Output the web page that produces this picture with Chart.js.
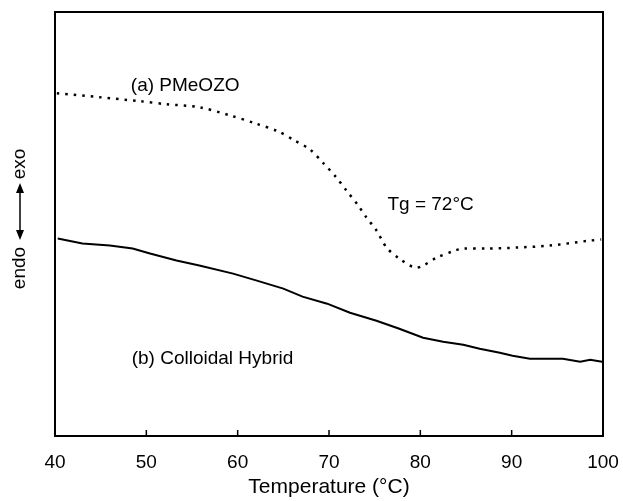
<!DOCTYPE html>
<html lang="en">
<head>
    <meta charset="UTF-8">
    <title>DSC curves</title>
    <script src="https://cdn.jsdelivr.net/npm/chart.js"></script>
    <style>
        body { margin: 0; background: #fff; }
        .wrap { width: 623px; height: 501px; }
    </style>
</head>
<body>
    <div class="wrap"><canvas id="dsc"></canvas></div>
    <script>
        // (a) PMeOZO, dotted trace
        let tempA = [40.2, 44.9, 49.3, 52.2, 55.8, 59.1, 61.9, 64.4, 66.2, 67.9, 69.4, 70.8, 71.9, 73.2, 74.1, 75.2, 76.3, 77.7, 79.4, 80.3, 81.8, 83.8, 84.7, 87.3, 90.6, 94.2, 98.6, 99.8];
        let heatA = [342, 338, 334, 331, 328, 320, 312, 304, 295, 286, 272, 258, 245, 230, 218, 205, 188, 177, 168, 170, 178, 185, 187, 187, 188, 190, 195, 196];
        // (b) Colloidal Hybrid, solid trace
        let tempB = [40.3, 43.0, 46.0, 48.5, 50.4, 53.3, 55.8, 59.5, 62.1, 65.0, 67.1, 69.8, 72.3, 75.2, 77.7, 80.3, 82.5, 84.7, 86.5, 88.7, 90.1, 92.0, 95.6, 97.5, 98.6, 99.9];
        let heatB = [197, 192, 190, 187, 182, 175, 170, 162, 155, 147, 139, 132, 123, 115, 107, 98, 94, 91, 87, 83, 80, 77, 77, 74, 76, 74];
        let xTicks = [40, 50, 60, 70, 80, 90, 100];

        let fontFam = "'Liberation Sans', Arial, sans-serif";

        function pairs(xs, ys) {
            return xs.map((x, i) => ({ x: x, y: ys[i] }));
        }

        // frame, inward ticks, labels
        let decor = {
            id: 'decor',
            afterDraw(chart) {
                let ctx = chart.ctx;
                let a = chart.chartArea;
                let xs = chart.scales.x, ys = chart.scales.y;
                ctx.save();
                ctx.strokeStyle = '#000';
                ctx.lineWidth = 2;
                ctx.strokeRect(a.left, a.top, a.right - a.left, a.bottom - a.top);
                ctx.lineWidth = 1.5;
                xTicks.forEach(t => {
                    let px = xs.getPixelForValue(t);
                    ctx.beginPath();
                    ctx.moveTo(px, a.bottom);
                    ctx.lineTo(px, a.bottom - 6);
                    ctx.stroke();
                });

                ctx.fillStyle = '#000';
                ctx.font = '19px ' + fontFam;
                ctx.textBaseline = 'middle';
                ctx.textAlign = 'left';
                ctx.fillText('(a) PMeOZO', xs.getPixelForValue(48.3), ys.getPixelForValue(349));
                ctx.fillText('Tg = 72\u00B0C', xs.getPixelForValue(76.4), ys.getPixelForValue(231));
                ctx.fillText('(b) Colloidal Hybrid', xs.getPixelForValue(48.4), ys.getPixelForValue(77));

                // y label: endo <-> exo
                ctx.translate(20, 227);
                ctx.rotate(-Math.PI / 2);
                ctx.textAlign = 'center';
                ctx.fillText('endo', -41, 0);
                ctx.fillText('exo', 63, 0);
                ctx.lineWidth = 1.5;
                ctx.beginPath();
                ctx.moveTo(-8, 0);
                ctx.lineTo(39, 0);
                ctx.stroke();
                ctx.beginPath();
                ctx.moveTo(-13, 0); ctx.lineTo(-3, -4); ctx.lineTo(-3, 4); ctx.closePath();
                ctx.moveTo(44, 0); ctx.lineTo(34, -4); ctx.lineTo(34, 4); ctx.closePath();
                ctx.fill();
                ctx.restore();
            }
        };

        new Chart(document.getElementById('dsc'), {
            type: 'line',
            data: {
                datasets: [
                    {
                        label: '(a) PMeOZO',
                        data: pairs(tempA, heatA),
                        borderColor: '#000',
                        borderWidth: 2.5,
                        borderDash: [2.5, 6],
                        pointRadius: 0,
                        tension: 0.3,
                        fill: false
                    },
                    {
                        label: '(b) Colloidal Hybrid',
                        data: pairs(tempB, heatB),
                        borderColor: '#000',
                        borderWidth: 2,
                        pointRadius: 0,
                        tension: 0,
                        fill: false
                    }
                ]
            },
            options: {
                responsive: true,
                maintainAspectRatio: false,
                animation: false,
                layout: { padding: { left: 55, right: 20, top: 12, bottom: 1 } },
                plugins: { legend: { display: false }, tooltip: { enabled: false } },
                scales: {
                    x: {
                        type: 'linear',
                        min: 40,
                        max: 100,
                        afterBuildTicks: s => { s.ticks = xTicks.map(v => ({ value: v })); },
                        afterFit: s => { s.paddingLeft = 0; s.paddingRight = 0; },
                        grid: { display: false, drawTicks: false },
                        border: { display: false },
                        ticks: { color: '#000', font: { family: fontFam, size: 19 }, padding: 15, maxRotation: 0 },
                        title: { display: true, text: 'Temperature (\u00B0C)', color: '#000', font: { family: fontFam, size: 21 }, padding: { top: -14, bottom: 0 } }
                    },
                    y: {
                        min: 0,
                        max: 423,
                        display: false
                    }
                }
            },
            plugins: [decor]
        });
    </script>
</body>
</html>
